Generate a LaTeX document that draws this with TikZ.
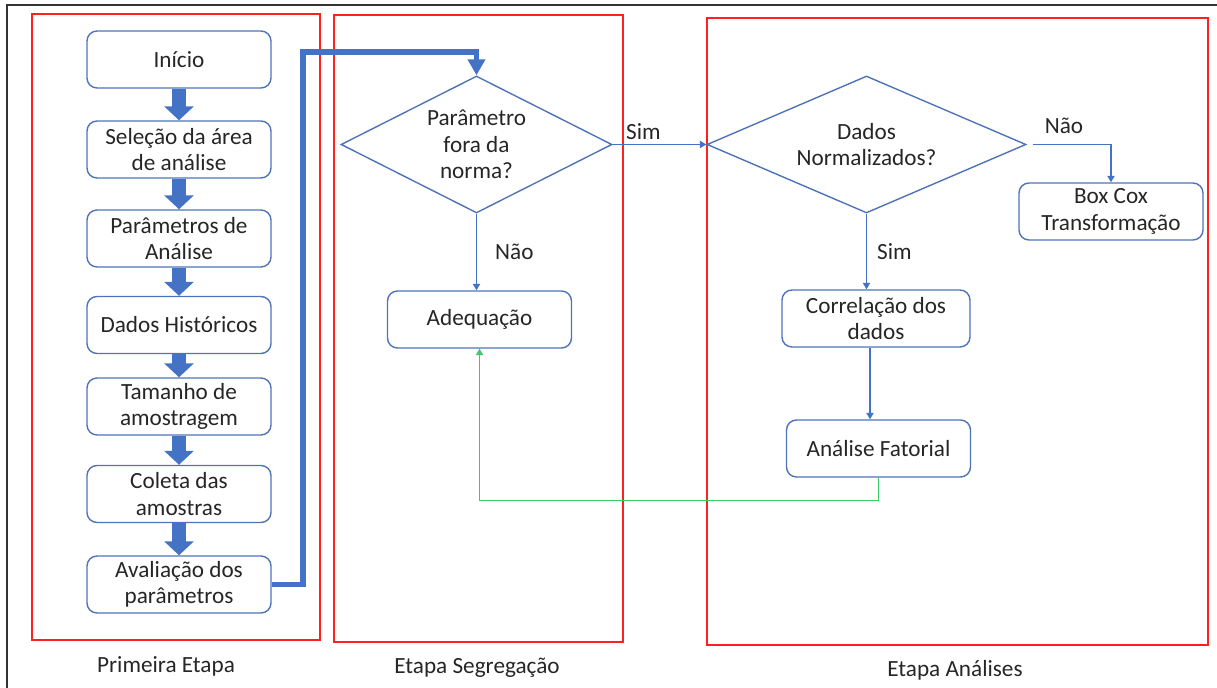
\documentclass[tikz,border=0pt]{standalone}
\usepackage{fontspec}
\setmainfont{Carlito}
\usepackage{tikz}
\usetikzlibrary{arrows.meta,shapes.geometric}
\definecolor{boxblue}{HTML}{4F73B8}
\definecolor{flowblue}{HTML}{4472C4}
\definecolor{loopgreen}{HTML}{3DCB6A}
\definecolor{stagered}{HTML}{FF2020}
\tikzset{passo/.style={draw=boxblue, line width=0.7pt, rounded corners=5pt, minimum width=92pt, minimum height=28.5pt, align=center, inner sep=1pt, text=black!85},
  decisao/.style={draw=boxblue, line width=0.7pt, diamond, inner sep=0pt, align=center, text=black!85},
  bloco/.style={line width=7pt, flowblue, -{Triangle[width=14.5pt, length=7pt]}},
  fino/.style={flowblue, line width=0.7pt, -{Triangle[width=3.6pt, length=3.2pt]}},
  rotulo/.style={inner sep=1pt, text=black!85},
  etapa/.style={stagered, line width=0.7pt}}

\begin{document}
\begin{tikzpicture}[x=0.5pt, y=-0.5pt, font=\fontsize{11.6}{13.2}\selectfont]
      \useasboundingbox (0,0) rectangle (1217,688);
      \draw [black!80, line width=0.6pt] (7,688) -- (7,5) -- (1217,5);
      % etapas
      \draw [etapa] (32,14) rectangle (320,640);
      \draw [etapa] (334,15) rectangle (623,642);
      \draw [etapa] (707,18) rectangle (1208,645);
      \node [rotulo] (etapa1) at (166,666) {Primeira Etapa};
      \node [rotulo] (etapa2) at (477,668) {Etapa Segregação};
      \node [rotulo] (etapa3) at (955,670) {Etapa Análises};
      % primeira etapa
      \node [passo] (inicio) at (179,59.5) {Início};
      \node [passo] (selecao) at (179,149.5) {Seleção da área\\de análise};
      \node [passo] (parametros) at (179,238.5) {Parâmetros de\\Análise};
      \node [passo] (historicos) at (179,325) {Dados Históricos};
      \node [passo] (tamanho) at (179,406.5) {Tamanho de\\amostragem};
      \node [passo] (coleta) at (179,494) {Coleta das\\amostras};
      \node [passo] (avaliacao) at (179,584.5) {Avaliação dos\\parâmetros};
      \draw [bloco] (inicio.south) -- (selecao.north);
      \draw [bloco] (selecao.south) -- (parametros.north);
      \draw [bloco] (parametros.south) -- (historicos.north);
      \draw [bloco] (historicos.south) -- (tamanho.north);
      \draw [bloco] (tamanho.south) -- (coleta.north);
      \draw [bloco] (coleta.south) -- (avaliacao.north);
      % segregacao
      \node [decisao, aspect=1.98, minimum width=135.5pt, minimum height=68.5pt] (fora) at (476.5,144.5) {Parâmetro\\fora da\\norma?};
      \node [passo] (adequacao) at (479.5,319.5) {Adequação};
      \coordinate (volta) at (303,52);
      \draw [flowblue, line width=2.6pt, -{Triangle[width=8.5pt, length=8pt]}] (avaliacao.east) -| (volta) -| (fora.north);
      \draw [fino] (fora.south) -- (fora.south |- adequacao.north) node [rotulo, midway, right=8pt] {Não};
      % analises
      \node [decisao, aspect=2.33, minimum width=159.5pt, minimum height=68.5pt] (normal) at (866.5,144.5) {Dados\\Normalizados?};
      \node [passo] (boxcox) at (1111,211.5) {Box Cox\\Transformação};
      \node [passo, minimum width=94pt] (correlacao) at (876,318.5) {Correlação dos\\dados};
      \node [passo] (fatorial) at (878.5,448.5) {Análise Fatorial};
      \draw [fino] (fora.east) -- (normal.west) node [rotulo, midway, above=1pt, xshift=-8pt] {Sim};
      \draw [fino] ([xshift=3pt]normal.east) -| (boxcox.north) node [rotulo, pos=0.2, above=4pt] {Não};
      \draw [fino] (normal.south) -- (normal.south |- correlacao.north) node [rotulo, midway, right=4pt] {Sim};
      \draw [fino] ([xshift=-3pt]correlacao.south) -- ([xshift=-3pt]correlacao.south |- fatorial.north);
      \draw [loopgreen, line width=0.7pt, -{Triangle[width=3.6pt, length=3.2pt]}] (fatorial.south) -- ++(0,23) -| (adequacao.south);
    \end{tikzpicture}
\end{document}
